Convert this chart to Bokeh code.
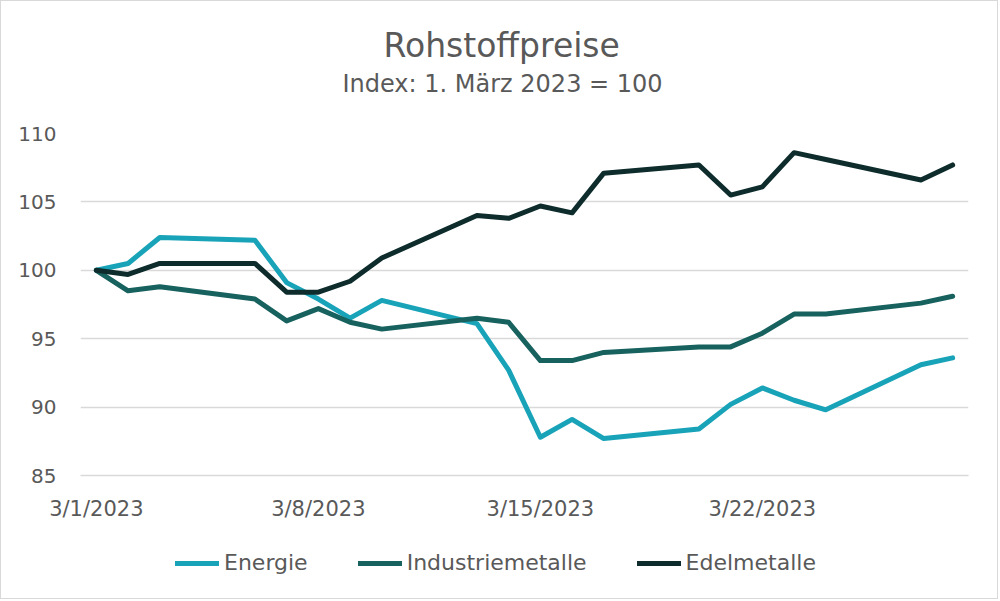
import pandas as pd
from bokeh.plotting import figure
from bokeh.layouts import column
from bokeh.models import (Range1d, FixedTicker, DatetimeTickFormatter, Legend,
                          LegendItem, Title, ColumnDataSource)
from bokeh.embed import file_html
from bokeh.resources import INLINE

# ---------------- data ----------------
dates = ["2023-03-01", "2023-03-02", "2023-03-03", "2023-03-06", "2023-03-07",
         "2023-03-08", "2023-03-09", "2023-03-10", "2023-03-13", "2023-03-14",
         "2023-03-15", "2023-03-16", "2023-03-17", "2023-03-20", "2023-03-21",
         "2023-03-22", "2023-03-23", "2023-03-24", "2023-03-27", "2023-03-28"]

energie = [100.0, 100.5, 102.4, 102.2, 99.1, 97.9, 96.5, 97.8, 96.1, 92.7,
           87.8, 89.1, 87.7, 88.4, 90.2, 91.4, 90.5, 89.8, 93.1, 93.6]
industriemetalle = [100.0, 98.5, 98.8, 97.9, 96.3, 97.2, 96.2, 95.7, 96.5, 96.2,
                    93.4, 93.4, 94.0, 94.4, 94.4, 95.4, 96.8, 96.8, 97.6, 98.1]
edelmetalle = [100.0, 99.7, 100.5, 100.5, 98.4, 98.4, 99.2, 100.9, 104.0, 103.8,
               104.7, 104.2, 107.1, 107.7, 105.5, 106.1, 108.6, 108.1, 106.6, 107.7]

series_names = ["Energie", "Industriemetalle", "Edelmetalle"]
series_colors = ["#19a3b8", "#17625e", "#0e2c2c"]
tick_dates = ["2023-03-01", "2023-03-08", "2023-03-15", "2023-03-22"]

title_text = "Rohstoffpreise"
subtitle_text = "Index: 1. März 2023 = 100"

FONT = "DejaVu Sans"
TEXT_COLOR = "#595959"
GRID_COLOR = "#d9d9d9"

x = pd.to_datetime(dates)
src = ColumnDataSource(dict(x=x, e=energie, i=industriemetalle, d=edelmetalle))

x_start = pd.Timestamp("2023-02-28 12:00")
x_end = pd.Timestamp("2023-03-28 12:00")

p = figure(frame_width=888, frame_height=342, output_backend="svg",
           toolbar_location=None, x_axis_type="datetime", title=None,
           x_range=Range1d(x_start, x_end), y_range=Range1d(85, 110),
           min_border_left=79, min_border_right=29, min_border_top=132,
           min_border_bottom=50)
p.outline_line_color = None
p.background_fill_color = "white"
p.border_fill_color = "white"

renderers = []
for col, name, color in zip(["e", "i", "d"], series_names, series_colors):
    r = p.line("x", col, source=src, line_color=color, line_width=5,
               line_join="round", line_cap="round")
    renderers.append(r)

# axes
p.yaxis.ticker = FixedTicker(ticks=[85, 90, 95, 100, 105, 110])
p.yaxis.axis_line_color = None
p.yaxis.major_tick_line_color = None
p.yaxis.minor_tick_line_color = None
p.yaxis.major_label_text_font = FONT
p.yaxis.major_label_text_font_size = "20px"
p.yaxis.major_label_text_color = TEXT_COLOR
p.yaxis.major_label_standoff = 18

tick_ms = [pd.Timestamp(t).value / 1e6 for t in tick_dates]
p.xaxis.ticker = FixedTicker(ticks=tick_ms)
p.xaxis.formatter = DatetimeTickFormatter(days="%-m/%-d/%Y", months="%-m/%-d/%Y",
                                          hours="%-m/%-d/%Y")
p.xaxis.axis_line_color = GRID_COLOR
p.xaxis.axis_line_width = 1.5
p.xaxis.major_tick_line_color = None
p.xaxis.minor_tick_line_color = None
p.xaxis.major_label_text_font = FONT
p.xaxis.major_label_text_font_size = "21px"
p.xaxis.major_label_text_color = TEXT_COLOR
p.xaxis.major_label_standoff = 15

p.xgrid.grid_line_color = None
p.ygrid.grid_line_color = GRID_COLOR
p.ygrid.grid_line_width = 1.5

# titles (first added sits nearest the frame); a blank spacer title first
spacer = Title(text=" ", text_font_size="1px", standoff=33)
sub = Title(text=subtitle_text, align="left", offset=262, text_font=FONT,
            text_font_size="24px", text_color=TEXT_COLOR, text_font_style="normal",
            standoff=0)
main = Title(text=title_text, align="left", offset=303, text_font=FONT,
             text_font_size="33px", text_color=TEXT_COLOR, text_font_style="normal",
             standoff=6)
p.add_layout(spacer, "above")
p.add_layout(sub, "above")
p.add_layout(main, "above")

# legend in a small companion figure below the chart
lf = figure(width=996, height=73, output_backend="svg", toolbar_location=None,
            x_axis_location=None, y_axis_location=None, min_border=0,
            x_range=Range1d(0, 1), y_range=Range1d(0, 1))
lf.outline_line_color = None
lf.xgrid.visible = False
lf.ygrid.visible = False
lf.border_fill_color = "white"
dummy = [lf.line(x=[5, 6], y=[5, 6], line_color=c, line_width=5, line_cap="round")
         for c in series_colors]
legend = Legend(items=[LegendItem(label=n, renderers=[r]) for n, r in zip(series_names, dummy)],
                orientation="horizontal", location=(95, 23),
                label_text_font=FONT, label_text_font_size="22px",
                label_text_color=TEXT_COLOR, glyph_width=44, glyph_height=20,
                label_standoff=5, spacing=50, padding=0, margin=0,
                border_line_color=None, background_fill_alpha=0)
lf.add_layout(legend)

layout = column(p, lf, spacing=0, styles={"border": "1px solid #d9d9d9"})

open("out.html", "w").write(file_html(layout, INLINE))
